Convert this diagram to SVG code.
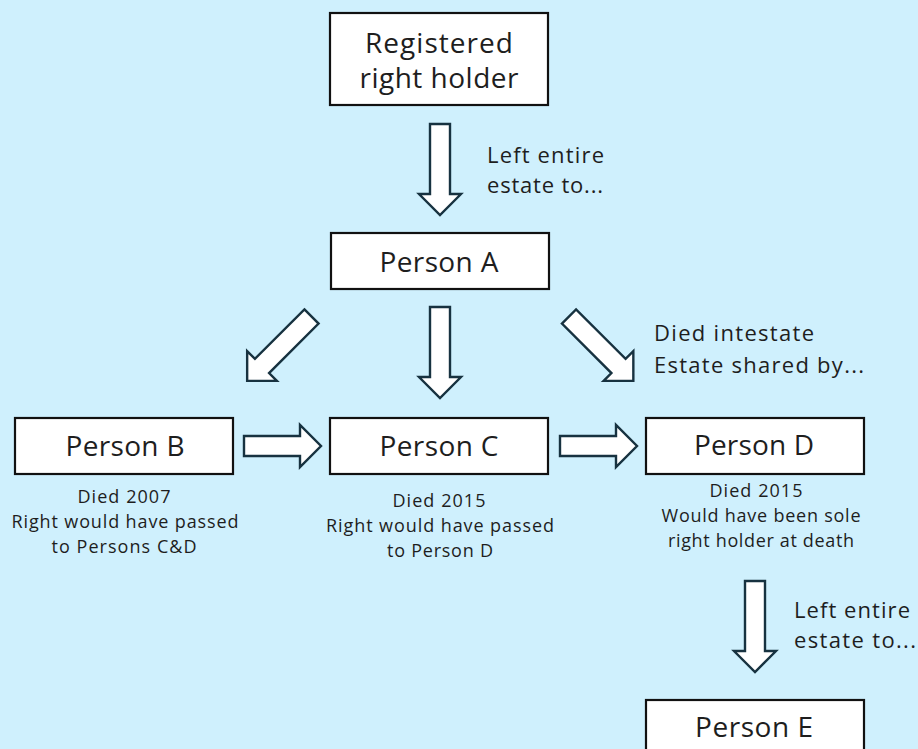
<svg xmlns="http://www.w3.org/2000/svg" width="918" height="749" viewBox="0 0 918 749">
<defs>
<style>
.box{fill:#ffffff;stroke:#111111;stroke-width:2.2}
.arr{fill:#ffffff;stroke:#173240;stroke-width:2.4;stroke-linejoin:miter}
text{font-family:"Open Sans","Noto Sans","Liberation Sans",sans-serif;fill:#1e1e1e}
.big{font-size:28px;text-anchor:middle}
.lbl{font-size:22px}
.note{font-size:18px;text-anchor:middle}
</style>
<path id="varrow" d="M-10,0 H10 V70 H21 L0,91 L-21,70 H-10 Z"/>
<path id="harrow" d="M0,-10 H56 V-21 L77,0 L56,21 V10 H0 Z"/>
</defs>
<rect width="918" height="749" fill="#cff0fd"/>

<g id="connectors">
<use href="#varrow" class="arr" transform="translate(440,124)"/>
<use href="#varrow" class="arr" transform="translate(440,307)"/>
<use href="#varrow" class="arr" transform="translate(311.5,316.5) rotate(45)"/>
<use href="#varrow" class="arr" transform="translate(569,316.5) rotate(-45)"/>
<use href="#harrow" class="arr" transform="translate(244,446)"/>
<use href="#harrow" class="arr" transform="translate(560,446)"/>
<use href="#varrow" class="arr" transform="translate(755,581)"/>
<text class="lbl" x="487" y="163" textLength="117">Left entire</text>
<text class="lbl" x="487" y="193" textLength="116">estate to...</text>
<text class="lbl" x="654" y="341" textLength="160">Died intestate</text>
<text class="lbl" x="654" y="373" textLength="210">Estate shared by...</text>
<text class="lbl" x="794" y="618" textLength="116">Left entire</text>
<text class="lbl" x="794" y="648" textLength="122">estate to...</text>
</g>

<g id="registered">
<rect class="box" x="330" y="13" width="218" height="92"/>
<text class="big" x="439" y="53" textLength="148">Registered</text>
<text class="big" x="439" y="88" textLength="159">right holder</text>
</g>

<g id="personA">
<rect class="box" x="331" y="233" width="218" height="56"/>
<text class="big" x="439" y="272" textLength="119">Person A</text>
</g>

<g id="personB">
<rect class="box" x="15" y="418" width="218" height="56"/>
<text class="big" x="125" y="456" textLength="119">Person B</text>
<text class="note" x="124" y="503" textLength="93">Died 2007</text>
<text class="note" x="125" y="528" textLength="227">Right would have passed</text>
<text class="note" x="124" y="553" textLength="145">to Persons C&amp;D</text>
</g>

<g id="personC">
<rect class="box" x="330" y="418" width="218" height="56"/>
<text class="big" x="439" y="456" textLength="119">Person C</text>
<text class="note" x="439" y="507" textLength="93">Died 2015</text>
<text class="note" x="440" y="532" textLength="228">Right would have passed</text>
<text class="note" x="440" y="557" textLength="106">to Person D</text>
</g>

<g id="personD">
<rect class="box" x="646" y="418" width="218" height="56"/>
<text class="big" x="754" y="455" textLength="120">Person D</text>
<text class="note" x="756" y="497" textLength="93">Died 2015</text>
<text class="note" x="761" y="522" textLength="199">Would have been sole</text>
<text class="note" x="761" y="547" textLength="186">right holder at death</text>
</g>

<g id="personE">
<rect class="box" x="646" y="700" width="218" height="60"/>
<text class="big" x="754" y="737" textLength="118">Person E</text>
</g>
</svg>
